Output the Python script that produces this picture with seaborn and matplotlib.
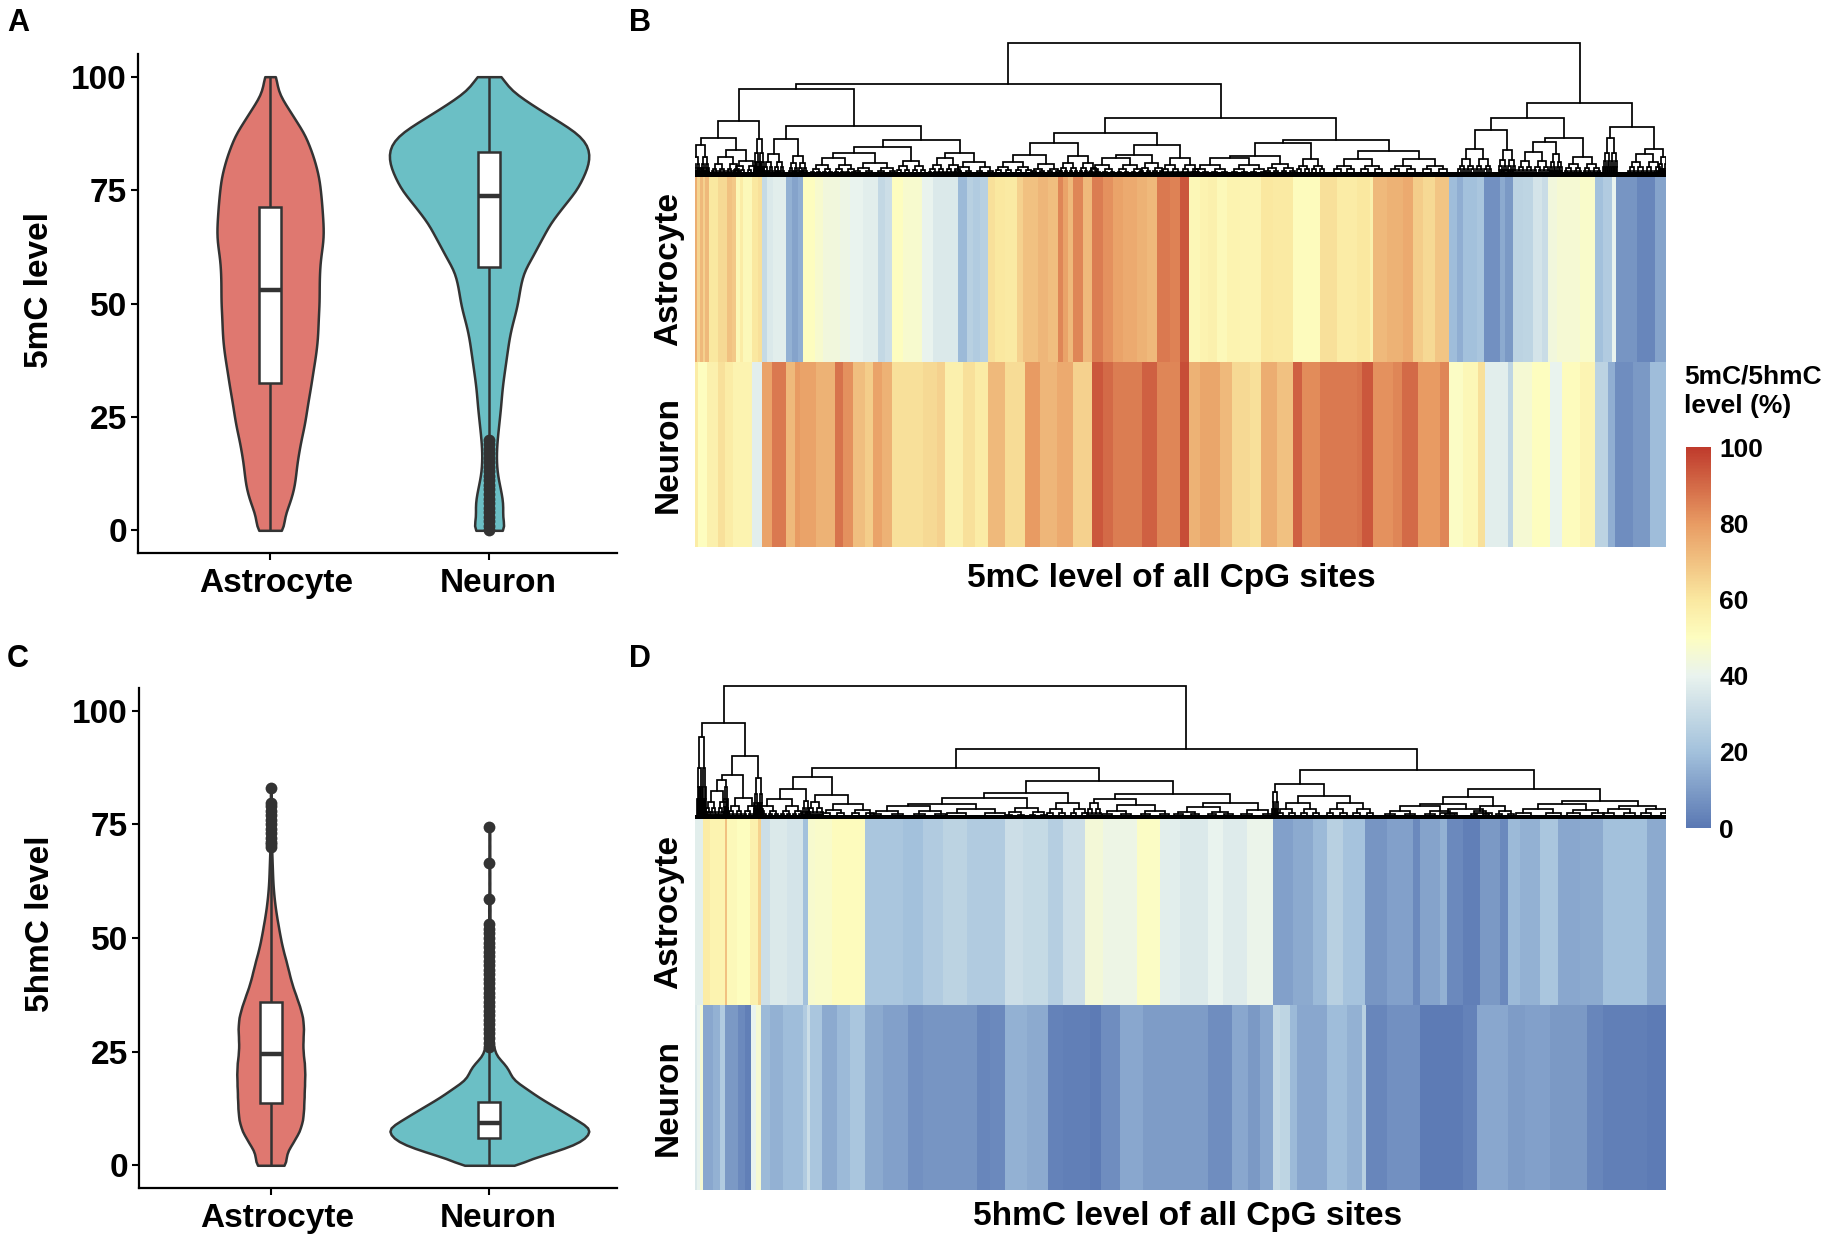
import numpy as np
import pandas as pd
import matplotlib.pyplot as plt
import seaborn as sns
from matplotlib.colors import LinearSegmentedColormap
from matplotlib.transforms import ScaledTranslation

W, H = 1831, 1238
cell_types = ["Astrocyte", "Neuron"]
palette = {"Astrocyte": "#DF7870", "Neuron": "#6BBFC5"}
ink = "#333333"

# violin outlines: share of sites per level
grid_a = np.arange(0, 100.1, 2.5)
astro_5mc = [40, 32, 45, 55, 62, 65, 68, 73, 78, 85, 90, 94, 99, 104, 108, 113, 117, 120, 121, 122, 124,
             124, 124, 125, 127, 132, 135, 134, 132, 130, 127, 124, 117, 109, 98, 87, 67, 50, 30, 16, 18]
neuron_5mc = [48, 30, 36, 32, 26, 20, 18, 18, 20, 23, 26, 29, 31, 34, 38, 42, 46, 50, 56, 64, 71,
              75, 80, 88, 106, 120, 136, 150, 172, 194, 218, 232, 245, 251, 246, 222, 176, 130, 86, 46, 34]
grid_c_astro = np.arange(0, 82.6, 2.5)
astro_5hmc = [40, 37, 55, 72, 80, 82, 83, 84, 85, 84, 80, 80, 82, 80, 72, 62, 52, 45, 38, 30, 24,
              19, 14, 10, 7, 5, 4, 3, 2, 2, 1, 1, 1, 1]
grid_c_neuron = list(range(0, 31)) + list(range(32, 75, 2))
neuron_5hmc = [80, 85, 125, 160, 195, 222, 238, 247, 251, 235, 215, 198, 178, 160, 140, 122, 105, 90, 72, 58, 52,
               48, 40, 30, 18, 14, 11, 9, 8, 7, 6,
               10, 9, 8, 8, 7, 6, 6, 5, 5, 4, 4, 3, 3, 3, 2, 2, 2, 2, 2, 2, 2, 2]

# box summaries: whisker low, q1, median, q3, whisker high
box_5mc = {"Astrocyte": [0, 32.4, 52.9, 71.2, 100], "Neuron": [20.5, 58, 73.7, 83.4, 100]}
box_5hmc = {"Astrocyte": [0, 13.6, 24.5, 36, 70], "Neuron": [0, 5.9, 9.4, 14, 26]}

outliers_5mc = {"Astrocyte": [],
                "Neuron": [0, 1, 2, 3, 4, 5, 6, 7, 8, 9, 10, 11, 12, 13, 14, 15, 16, 17, 18, 19, 20]}
outliers_5hmc = {"Astrocyte": [70, 70.6, 71.2, 72, 73, 74, 75, 76, 77, 78, 79, 79.6, 83],
                 "Neuron": [26, 27, 28, 29, 30, 31, 32, 33, 34, 35, 36, 37, 38, 39, 40, 41, 42, 43, 44, 45, 46,
                            47, 48, 49, 50, 51, 52, 53, 58.5, 66.5, 74.5]}

# heatmap stripes: each row is a list of stop sites (two halves) and the level of each stripe
b_astro_x = [22, 30, 38, 45, 57, 85, 112, 125, 138, 150, 160, 185, 205, 215, 232, 250, 287, 305, 325, 340, 375, 400,
             450, 480, 520, 565, 585, 605, 640, 695, 730, 770, 803, 830, 850, 870, 895, 915, 945, 980, 1000, 1045,
             1075, 1105, 1120, 1135, 1150, 1180, 1205, 1240, 1270, 1300, 1340, 1370, 1400, 1440, 1470]
b_astro_x2 = [27, 60, 85, 110, 140, 180, 243, 280, 340, 420, 470, 530, 570, 580, 620, 670, 700, 730, 765, 808, 830,
              850, 890, 912, 960, 975, 1000, 1030, 1060, 1085, 1105, 1130, 1200, 1245, 1270, 1295, 1307, 1370,
              1425, 1458]
b_astro_v = [75, 65, 72, 66, 72, 60, 64, 70, 68, 53, 58, 52, 60, 62, 30, 36, 38, 16, 12, 15, 50, 47,
             44, 42, 40, 38, 29, 32, 50, 47, 40, 36, 36, 18, 26, 24, 26, 62, 60, 59, 66, 70,
             73, 71, 84, 78, 72, 84, 72, 86, 82, 78, 76, 74, 72, 87, 85,
             94, 53, 55, 56, 52, 55, 54, 60, 59, 51, 62, 58, 60, 56, 72, 74, 76, 67, 64, 69, 19,
             15, 20, 22, 7, 14, 9, 27, 28, 34, 31, 44, 46, 48, 20, 24, 40, 8, 4, 12]

b_neuron_x = [25, 50, 85, 105, 130, 185, 215, 245, 287, 315, 330, 378, 436, 460, 490, 525, 548, 575, 605, 700, 740,
              765, 820, 855, 895, 945, 1005, 1050, 1100, 1150, 1205, 1240, 1270, 1355, 1400, 1470]
b_neuron_x2 = [27, 60, 120, 155, 210, 243, 290, 340, 365, 420, 530, 545, 580, 640, 665, 715, 780, 808, 850, 893,
               915, 985, 998, 1055, 1110, 1145, 1200, 1245, 1285, 1305, 1360, 1410, 1458]
b_neuron_v = [58, 50, 56, 62, 58, 55, 38, 78, 87, 72, 80, 78, 74, 88, 82, 71, 67, 78, 74, 62, 64,
              66, 56, 62, 58, 72, 63, 80, 73, 76, 66, 94, 90, 86, 92, 84,
              96, 74, 77, 72, 64, 62, 75, 70, 92, 83, 87, 88, 94, 82, 84, 90, 80, 84, 49, 53,
              62, 38, 28, 46, 50, 40, 51, 54, 27, 15, 6, 9, 19]

d_astro_x = [38, 60, 105, 112, 140, 180, 205, 213, 240, 290, 338, 355, 375, 425, 525, 640, 700, 760, 830, 945, 1000,
             1075, 1120, 1185, 1240, 1340, 1410, 1470]
d_astro_x2 = [85, 130, 200, 280, 340, 400, 440, 490, 555, 620, 700, 720, 780, 800, 850, 900, 960, 985, 1020, 1080,
              1135, 1200, 1270, 1330, 1400, 1458]
d_astro_v = [38, 58, 55, 70, 52, 50, 56, 66, 32, 36, 34, 20, 47, 48, 51, 22, 20, 24, 27, 24, 32,
             30, 25, 32, 45, 42, 49, 38,
             36, 40, 37, 41, 11, 14, 18, 26, 21, 8, 11, 5, 12, 16, 5, 2, 9, 5, 18, 16,
             22, 13, 14, 20, 20, 14]

d_neuron_x = [22, 30, 40, 70, 90, 106, 145, 165, 184, 197, 212, 240, 280, 340, 350, 360, 395, 440, 480, 525, 580, 655,
              700, 860, 900, 945, 1010, 1075, 1120, 1200, 1232, 1290, 1360, 1470]
d_neuron_x2 = [85, 155, 205, 240, 280, 300, 330, 350, 440, 500, 545, 558, 620, 720, 850, 892, 985, 1035, 1110, 1220,
               1270, 1400, 1458]
d_neuron_v = [36, 40, 46, 13, 16, 24, 9, 5, 2, 40, 46, 18, 16, 19, 24, 32, 22, 14, 18, 22, 14, 11,
              7, 8, 4, 5, 16, 14, 3, 2, 1, 6, 13, 10,
              10, 6, 13, 9, 13, 30, 28, 18, 13, 19, 16, 26, 4, 7, 1, 3, 13, 10, 11, 9,
              4, 2, 1]

# dendrograms: (height, left, right) are merges, (site, site, height) are bushy end clusters
b_tree = (397,
          (274,
           (259,
            (164,
             (113, (18, 45, 92), (76, (85, 130, 55), (148, 188, 45))),
             (200, 215, 110)),
            (149,
             (110, (235, 268, 65), (310, 338, 60)),
             (108,
              (87, (67, (395, 465, 52), (520, 590, 37)), (640, 688, 45)),
              (69, (740, 790, 52), (820, 885, 40))))),
           (174,
            (127,
             (97, (61, (940, 1000, 42), (1045, 1092, 34)), (1135, 1195, 59)),
             (92, (61, (1235, 1320, 52), (1365, 1405, 39)), (1440, 1500, 52))),
            (107,
             (97, (59, (1560, 1677, 52), (1745, 1795, 35)), (1838, 1885, 49)),
             (75, (1962, 2045, 49), (2140, 2235, 49))))),
          (217,
           (172,
            (136, (2328, 2380, 79), (2438, 2465, 77)),
            (112, (100, (2505, 2555, 70), (2588, 2608, 65)), (2650, 2705, 57))),
           (147,
            (2750, 2772, 112),
            (79, (2838, 2890, 64), (2912, 2928, 55)))))

d_tree = (398,
          (287,
           (28, 42, 246),
           (188,
            (131, (116, (62, 100, 84), (105, 112, 95)), (135, 185, 64)),
            (198, 212, 123))),
          (209,
           (153,
            (125,
             (89, (232, 305, 61), (342, 355, 54)),
             (73, (362, 388, 51), (430, 518, 44))),
            (113,
             (78,
              (64, (44, (590, 720, 38), (800, 915, 30)), (975, 1045, 34)),
              (1098, 1168, 48)),
             (76,
              (61, (1200, 1225, 48), (1280, 1395, 41)),
              (49, (1490, 1590, 36), (1670, 1735, 26))))),
           (146,
            (104,
             (1750, 1760, 80),
             (68, (1788, 1860, 48), (1940, 2020, 48))),
            (91,
             (66,
              (46, (2130, 2250, 38), (2275, 2380, 30)),
              (2370, 2445, 39)),
             (54,
              (44, (2500, 2590, 30), (2650, 2724, 28)),
              (38, (2755, 2819, 30), (2868, 2928, 30)))))))

cbar_ticks = [0, 20, 40, 60, 80, 100]
heat_colors = [(0.0, "#5A78B3"), (0.2, "#A3C1DC"), (0.4, "#E9F3EE"), (0.5, "#FDFDC0"),
               (0.6, "#FAE8A0"), (0.8, "#E89B63"), (1.0, "#BF3A2C")]

sns.set_style("ticks")
plt.rcParams["font.family"] = ["Liberation Sans", "DejaVu Sans"]
plt.rcParams["font.weight"] = "bold"
plt.rcParams["axes.labelweight"] = "bold"
plt.rcParams["text.color"] = "black"
plt.rcParams["axes.labelcolor"] = "black"
plt.rcParams["axes.edgecolor"] = "black"
plt.rcParams["xtick.color"] = "black"
plt.rcParams["ytick.color"] = "black"
heat_cmap = LinearSegmentedColormap.from_list("level", heat_colors)

fig = plt.figure(figsize=(W / 100, H / 100), dpi=100)


def px_axes(x0, y0, x1, y1):
    return fig.add_axes([x0 / W, 1 - y1 / H, (x1 - x0) / W, (y1 - y0) / H])


def violin_panel(ax, astro_levels, astro_counts, neuron_levels, neuron_counts, box, outliers, ylabel, bw):
    df = pd.DataFrame({
        "cell": ["Astrocyte"] * int(np.sum(astro_counts)) + ["Neuron"] * int(np.sum(neuron_counts)),
        "level": np.concatenate([np.repeat(astro_levels, astro_counts), np.repeat(neuron_levels, neuron_counts)]),
    })
    sns.violinplot(data=df, x="cell", y="level", hue="cell", palette=palette, order=cell_types, hue_order=cell_types,
                   density_norm="area", common_norm=True, width=0.91, cut=0, bw_method=bw, inner=None, saturation=1,
                   linewidth=1.8, linecolor=ink, legend=False, ax=ax)
    box_df = pd.DataFrame([(c, v) for c in cell_types for v in box[c]], columns=["cell", "level"])
    sns.boxplot(data=box_df, x="cell", y="level", order=cell_types, color="white", width=0.1, whis=(0, 100),
                showcaps=False, showfliers=False, saturation=1, linewidth=1.8, linecolor=ink,
                medianprops={"linewidth": 3.2}, ax=ax)
    out_df = pd.DataFrame([(c, v) for c in cell_types for v in outliers[c]], columns=["cell", "level"])
    sns.stripplot(data=out_df, x="cell", y="level", order=cell_types, color=ink, jitter=False, size=8.5, ax=ax)
    ax.set_xlim(-0.603, 1.584)
    ax.set_ylim(-5, 105)
    ax.set_yticks([0, 25, 50, 75, 100])
    ax.set_xlabel("")
    ax.set_ylabel(ylabel, fontsize=24, fontweight="bold")
    ax.yaxis.set_label_coords(-0.173, 0.528)
    ax.tick_params(labelsize=24, width=1.5, length=5)
    ax.tick_params(axis="y", pad=3)
    ax.tick_params(axis="x", pad=6)
    for side in ["left", "bottom"]:
        ax.spines[side].set_linewidth(1.6)
    sns.despine(ax=ax)
    # category names sit a little right of their ticks in the original
    for label, shift in zip(ax.get_xticklabels(), [6, 9]):
        label.set_transform(label.get_transform() + ScaledTranslation(shift / 100, 0, fig.dpi_scale_trans))


def stripes(x1, x2, v):
    stops = np.concatenate([[15], x1, 1470 + np.array(x2)])
    return np.repeat(v, np.diff(stops))


def bush(ax, a, b, h):
    # inside of an end cluster: split each leg again until the branches reach the base
    w = (b - a) / 2
    child = h * 0.62
    if child < 12 or w < 1.5:
        ax.plot([a, a, b, b], [0, h, h, 0], color="black", lw=1.25, solid_joinstyle="miter")
        return
    ax.plot([a, a, b, b], [child, h, h, child], color="black", lw=1.25, solid_joinstyle="miter")
    bush(ax, a - w / 2, a + w / 2, child)
    bush(ax, b - w / 2, b + w / 2, child)


def draw_tree(ax, node):
    if not isinstance(node[1], tuple):
        a, b, h = node
        bush(ax, a, b, h)
        return (a + b) / 2, h
    h, left, right = node
    xl, hl = draw_tree(ax, left)
    xr, hr = draw_tree(ax, right)
    ax.plot([xl, xl, xr, xr], [hl, h, h, hr], color="black", lw=1.25, solid_joinstyle="miter")
    return (xl + xr) / 2, h


def heat_panel(hx0, hx1, top, bottom, tree_top, tree, base, matrix, title, title_x, title_y, cax=None):
    dax = px_axes(hx0, tree_top, hx1, top)
    draw_tree(dax, tree)
    dax.axhspan(-6, 12, color="black", lw=0)
    dax.set_xlim(15, 2928)
    dax.set_ylim(base[0], base[1])
    dax.axis("off")
    ax = px_axes(hx0, top, hx1, bottom)
    kws = {"cbar": False}
    if cax is not None:
        kws = {"cbar": True, "cbar_ax": cax, "cbar_kws": {"ticks": cbar_ticks}}
    sns.heatmap(matrix, ax=ax, cmap=heat_cmap, vmin=0, vmax=100, xticklabels=False, yticklabels=cell_types,
                rasterized=True, **kws)
    ax.tick_params(axis="y", length=0, labelsize=24, pad=8)
    ax.set_yticklabels(cell_types, rotation=90, va="center", fontweight="bold")
    fig.text(title_x / W, 1 - title_y / H, title, ha="center", va="center", fontsize=24, fontweight="bold")


ax_a = px_axes(138, 54, 617, 553)
violin_panel(ax_a, grid_a, astro_5mc, grid_a, neuron_5mc, box_5mc, outliers_5mc, "5mC level", 0.08)
ax_c = px_axes(139, 688, 617, 1188)
violin_panel(ax_c, grid_c_astro, astro_5hmc, grid_c_neuron, neuron_5hmc, box_5hmc, outliers_5hmc, "5hmC level", 0.1)

cax = px_axes(1686, 447, 1711, 828)
heat_panel(695, 1666, 177, 547, 30, b_tree, (-4, 437),
           np.vstack([stripes(b_astro_x, b_astro_x2, b_astro_v), stripes(b_neuron_x, b_neuron_x2, b_neuron_v)]),
           "5mC level of all CpG sites", 1171, 578, cax=cax)
heat_panel(695, 1666, 819, 1190, 680, d_tree, (0, 417),
           np.vstack([stripes(d_astro_x, d_astro_x2, d_astro_v), stripes(d_neuron_x, d_neuron_x2, d_neuron_v)]),
           "5hmC level of all CpG sites", 1188, 1216)

cax.tick_params(length=0, labelsize=19, pad=6)
for spine in cax.spines.values():
    spine.set_visible(False)
fig.text(1684 / W, 1 - 391 / H, "5mC/5hmC\nlevel (%)", fontsize=19, fontweight="bold", ha="left", va="center",
         linespacing=1.3)

for letter, x, y in [("A", 7, 23), ("B", 629, 23), ("C", 7, 659), ("D", 629, 659)]:
    fig.text(x / W, 1 - y / H, letter, fontsize=22, fontweight="bold", ha="left", va="center")

fig.savefig("out.png", dpi=100, facecolor="white")
